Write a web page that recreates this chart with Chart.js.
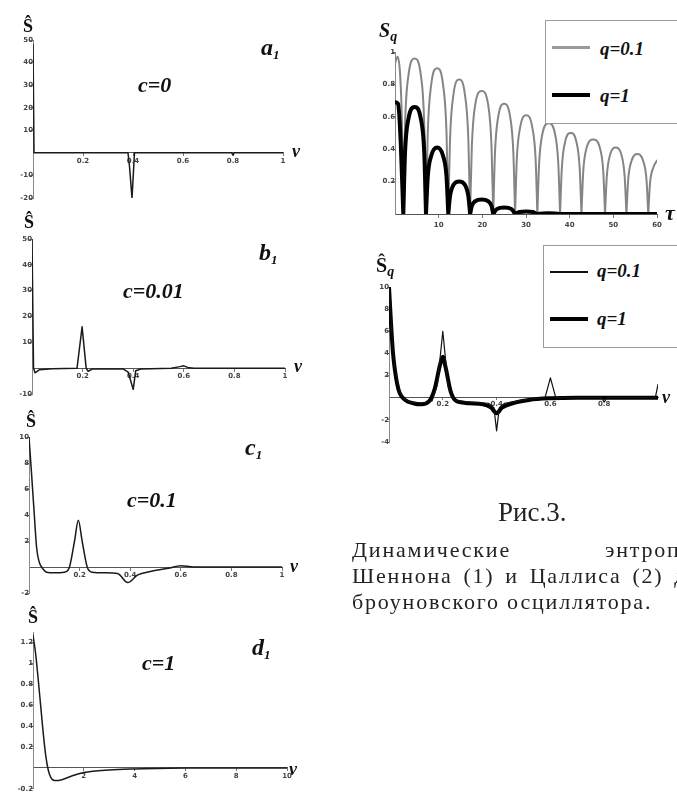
<!DOCTYPE html>
<html><head><meta charset="utf-8">
<script src="https://cdn.jsdelivr.net/npm/chart.js@4/dist/chart.umd.min.js"></script>
<style>
html,body{margin:0;padding:0;background:#fff;}
#wrap{position:relative;width:677px;height:795px;overflow:hidden;background:#fff;}
canvas.layer{position:absolute;left:0;top:0;}
.l{position:absolute;line-height:1;white-space:nowrap;font-family:"Liberation Serif",serif;color:#111;}
.bi{font-weight:bold;font-style:italic;}
.b{font-weight:bold;}
.sub{position:relative;top:4px;font-size:13px;}
.cap{position:absolute;line-height:1;white-space:nowrap;font-family:"Liberation Serif",serif;color:#222;font-size:22px;letter-spacing:1.8px;}
.box{position:absolute;border:1px solid #9a9a9a;background:#fff;}
.sw{position:absolute;}
</style></head>
<body>
<div id="wrap">
<canvas id="cA" class="layer" width="677" height="795"></canvas>
<canvas id="cB" class="layer" width="677" height="795"></canvas>
<canvas id="cC" class="layer" width="677" height="795"></canvas>
<canvas id="cD" class="layer" width="677" height="795"></canvas>
<canvas id="cT" class="layer" width="677" height="795"></canvas>
<canvas id="cN" class="layer" width="677" height="795"></canvas>

<!-- panel a1 -->
<div class="l b" style="left:23px;top:17px;font-size:18px;">Ŝ</div>
<div class="l bi" style="left:261px;top:35px;font-size:24px;">a<span class="sub">1</span></div>
<div class="l bi" style="left:138px;top:73.6px;font-size:22px;">c=0</div>
<div class="l bi" style="left:292px;top:142px;font-size:18px;">ν</div>
<!-- panel b1 -->
<div class="l b" style="left:24px;top:213px;font-size:18px;">Ŝ</div>
<div class="l bi" style="left:259px;top:240px;font-size:24px;">b<span class="sub">1</span></div>
<div class="l bi" style="left:123px;top:279.6px;font-size:22px;">c=0.01</div>
<div class="l bi" style="left:294px;top:357px;font-size:18px;">ν</div>
<!-- panel c1 -->
<div class="l b" style="left:26px;top:412px;font-size:18px;">Ŝ</div>
<div class="l bi" style="left:245px;top:435px;font-size:24px;">c<span class="sub">1</span></div>
<div class="l bi" style="left:127px;top:488.6px;font-size:22px;">c=0.1</div>
<div class="l bi" style="left:290px;top:557px;font-size:18px;">ν</div>
<!-- panel d1 -->
<div class="l b" style="left:28px;top:608px;font-size:18px;">Ŝ</div>
<div class="l bi" style="left:252px;top:635px;font-size:24px;">d<span class="sub">1</span></div>
<div class="l bi" style="left:142px;top:651.6px;font-size:22px;">c=1</div>
<div class="l bi" style="left:289px;top:760px;font-size:18px;">ν</div>

<!-- top right panel -->
<div class="l bi" style="left:379px;top:20px;font-size:20px;">S<span class="sub" style="font-size:14px;">q</span></div>
<div class="l bi" style="left:665px;top:201.6px;font-size:22px;">τ</div>
<div class="box" style="left:545px;top:20px;width:150px;height:102px;"></div>
<div class="sw" style="left:552px;top:46px;width:38px;height:2.5px;background:#9a9a9a;"></div>
<div class="l bi" style="left:600px;top:39px;font-size:19px;">q=0.1</div>
<div class="sw" style="left:552px;top:93px;width:38px;height:4px;background:#000;"></div>
<div class="l bi" style="left:600px;top:86px;font-size:19px;">q=1</div>

<!-- bottom right panel -->
<div class="l b" style="left:376px;top:255px;font-size:20px;">Ŝ<span class="sub" style="font-size:14px;font-style:italic;">q</span></div>
<div class="l bi" style="left:662px;top:388px;font-size:18px;">ν</div>
<div class="box" style="left:543px;top:245px;width:150px;height:101px;"></div>
<div class="sw" style="left:550px;top:271px;width:38px;height:1.5px;background:#111;"></div>
<div class="l bi" style="left:597px;top:261px;font-size:19px;">q=0.1</div>
<div class="sw" style="left:550px;top:317px;width:38px;height:4px;background:#000;"></div>
<div class="l bi" style="left:597px;top:309px;font-size:19px;">q=1</div>

<!-- caption -->
<div class="l" style="left:498px;top:499.4px;font-size:27px;color:#222;">Рис.3.</div>
<div class="cap" style="left:352px;top:538.6px;">Динамические</div>
<div class="cap" style="left:605px;top:538.6px;">энтропии</div>
<div class="cap" style="left:352px;top:564.6px;word-spacing:3.5px;">Шеннона (1) и Цаллиса (2) для</div>
<div class="cap" style="left:352px;top:590.6px;">броуновского осциллятора.</div>
</div>

<script>
// ---------- data ----------
// panel a1 (c=0)
const a1Nu = [0, 0.004, 0.38, 0.386, 0.396, 0.406, 0.795, 0.8, 0.805, 1];
const a1S  = [48, 0, 0, -6, -20, 0, 0, -1, 0, 0];
const a1XTicks = [0.2, 0.4, 0.6, 0.8, 1];
const a1YTicks = [50, 40, 30, 20, 10, -10, -20];

// panel b1 (c=0.01)
const b1Nu = [0, 0.006, 0.012, 0.03, 0.08, 0.178, 0.198, 0.214, 0.222, 0.24, 0.36, 0.38, 0.4, 0.41, 0.43, 0.55, 0.585, 0.6, 0.615, 0.64, 0.8, 1];
const b1S  = [50, 0, -1.8, -0.6, -0.2, 0, 16, 0, -1.2, -0.3, -0.3, -1.5, -8.2, -1, -0.3, 0, 0.6, 0.9, 0.3, 0, 0, 0];
const b1XTicks = [0.2, 0.4, 0.6, 0.8, 1];
const b1YTicks = [50, 40, 30, 20, 10, -10];

// panel c1 (c=0.1)
const c1Nu = [0, 0.01, 0.02, 0.03, 0.04, 0.05, 0.07, 0.1, 0.14, 0.16, 0.18, 0.195, 0.21, 0.23, 0.25, 0.3, 0.35, 0.39, 0.43, 0.48, 0.55, 0.6, 0.65, 1];
const c1S  = [10, 7.2, 4.3, 1.5, 0.4, 0, -0.4, -0.45, -0.4, 0, 2, 3.6, 2, 0, -0.4, -0.45, -0.5, -1.2, -0.6, -0.35, -0.1, 0.1, 0, 0];
const c1XTicks = [0.2, 0.4, 0.6, 0.8, 1];
const c1YTicks = [10, 8, 6, 4, 2, -2];

// panel d1 (c=1)
const d1Nu = [0, 0.1, 0.2, 0.3, 0.4, 0.5, 0.6, 0.7, 0.85, 1.0, 1.5, 2, 3, 4, 6, 10];
const d1S  = [1.27, 1.1, 0.86, 0.6, 0.34, 0.12, -0.02, -0.09, -0.12, -0.12, -0.08, -0.045, -0.02, -0.01, 0, 0];
const d1XTicks = [2, 4, 6, 8, 10];
const d1YTicks = [1.2, 1, 0.8, 0.6, 0.4, 0.2, -0.2];

// top right: S_q(tau); null separates the arches
const tauQ01 = [0,0.6,1.2,1.6,1.9, 1.9,
  1.9,2.3,3.1,4.5,5.9,6.7,7.1, 7.1,
  7.1,7.5,8.3,9.65,11.0,11.8,12.2, 12.2,
  12.2,12.6,13.4,14.7,16.0,16.8,17.2, 17.2,
  17.2,17.6,18.4,19.85,21.3,22.1,22.5, 22.5,
  22.5,22.9,23.7,25.0,26.3,27.1,27.5, 27.5,
  27.5,27.9,28.7,30.05,31.4,32.2,32.6, 32.6,
  32.6,33.0,33.8,35.2,36.6,37.4,37.8, 37.8,
  37.8,38.2,39.0,40.25,41.5,42.3,42.7, 42.7,
  42.7,43.1,43.9,45.4,46.9,47.7,48.1, 48.1,
  48.1,48.5,49.3,50.55,51.8,52.6,53.0, 53.0,
  53.0,53.4,54.2,55.5,56.8,57.6,58.0, 58.0,
  58.0,58.4,59.2,60];
const sQ01 = [0.93,0.97,0.85,0.55,0, null,
  0,0.55,0.86,0.96,0.86,0.55,0, null,
  0,0.5,0.8,0.9,0.8,0.5,0, null,
  0,0.46,0.74,0.83,0.74,0.46,0, null,
  0,0.42,0.68,0.76,0.68,0.42,0, null,
  0,0.38,0.61,0.68,0.61,0.38,0, null,
  0,0.34,0.54,0.61,0.54,0.34,0, null,
  0,0.31,0.5,0.56,0.5,0.31,0, null,
  0,0.28,0.45,0.5,0.45,0.28,0, null,
  0,0.26,0.41,0.46,0.41,0.26,0, null,
  0,0.23,0.37,0.41,0.37,0.23,0, null,
  0,0.21,0.33,0.37,0.33,0.21,0, null,
  0,0.19,0.29,0.33];
const tauQ1 = [0,0.7,1.3,1.9, 1.9,
  1.9,2.3,3.1,4.5,5.9,6.7,7.1, 7.1,
  7.1,7.5,8.3,9.65,11.0,11.8,12.2, 12.2,
  12.2,12.6,13.4,14.7,16.0,16.8,17.2, 17.2,
  17.2,17.6,18.4,19.85,21.3,22.1,22.5, 22.5,
  22.5,23.3,25.0,26.7,27.5, 27.5,
  27.5,28.5,30.05,31.6,32.6,35.2,37.8,60];
const sQ1 = [0.69,0.68,0.45,0, null,
  0,0.38,0.59,0.66,0.59,0.38,0, null,
  0,0.23,0.36,0.41,0.36,0.23,0, null,
  0,0.11,0.18,0.2,0.18,0.11,0, null,
  0,0.05,0.08,0.09,0.08,0.05,0, null,
  0,0.03,0.04,0.03,0, null,
  0,0.012,0.015,0.012,0,0.005,0,0];
const tauXTicks = [10, 20, 30, 40, 50, 60];
const tauYTicks = [1, 0.8, 0.6, 0.4, 0.2];

// bottom right: hat S_q(nu)
const nuQ01 = [0,0.01,0.02,0.035,0.05,0.08,0.12,0.16,0.18,0.2,0.22,0.24,0.3,0.37,0.39,0.4,0.41,0.43,0.5,0.58,0.6,0.62,0.7,0.79,0.8,0.81,0.99,1.0];
const hsQ01 = [10,6,3,1,0,-0.4,-0.5,-0.3,1.2,6.0,1.0,-0.2,-0.4,-0.5,-0.9,-3.0,-0.9,-0.5,-0.2,0,1.8,0,0,0,-0.4,0,0,1.2];
const nuQ1 = [0,0.008,0.015,0.022,0.03,0.04,0.06,0.09,0.12,0.15,0.17,0.19,0.2,0.21,0.23,0.25,0.3,0.35,0.38,0.4,0.42,0.46,0.52,0.6,0.7,1];
const hsQ1 = [10,6.5,4,2.5,1.3,0.4,-0.2,-0.5,-0.6,-0.3,0.8,3.0,3.7,2.8,0.5,-0.3,-0.5,-0.6,-0.9,-1.4,-0.9,-0.5,-0.2,-0.05,0,0];
const nuXTicks = [0.2, 0.4, 0.6, 0.8];
const nuYTicks = [10, 8, 6, 4, 2, -2, -4];

// ---------- drawing ----------
const W = 677, H = 795;
const tickFont = {family: 'DejaVu Sans', size: 7, weight: 'bold'};

function pts(xs, ys) { return xs.map((v, i) => ({x: v, y: ys[i]})); }

function makeChart(id, area, xr, yr, xTicks, yTicks, sets, o) {
  o = Object.assign({tl: 3, xpad: 1, ypad: 2, border: '#555'}, o || {});
  new Chart(document.getElementById(id), {
    type: 'scatter',
    data: {datasets: sets.map(s => ({
      data: pts(s.x, s.y), showLine: true, pointRadius: 0, borderColor: s.c,
      borderWidth: s.w, tension: 0, cubicInterpolationMode: s.m || 'default',
      spanGaps: false, fill: false, borderJoinStyle: 'round', borderCapStyle: 'round'
    }))},
    options: {
      responsive: false, animation: false, devicePixelRatio: 1, events: [],
      plugins: {legend: {display: false}, tooltip: {enabled: false}},
      layout: {padding: {left: area[0], right: W - area[1], top: area[2], bottom: H - area[3]}},
      scales: {
        x: {type: 'linear', axis: 'x', position: {y: 0}, min: xr[0], max: xr[1],
          afterFit: s => { s.height = 0; },
          afterBuildTicks: s => { s.ticks = xTicks.map(v => ({value: v})); },
          ticks: {autoSkip: false, maxRotation: 0, padding: o.xpad, font: tickFont, color: '#444', callback: v => String(v)},
          grid: {drawOnChartArea: false, tickLength: o.tl, color: '#777'},
          border: {color: o.border, width: 1}},
        y: {type: 'linear', axis: 'y', position: {x: xr[0]}, min: yr[0], max: yr[1],
          afterFit: s => { s.width = 0; },
          afterBuildTicks: s => { s.ticks = yTicks.map(v => ({value: v})); },
          ticks: {autoSkip: false, padding: o.ypad, font: tickFont, color: '#444', callback: v => String(v)},
          grid: {drawOnChartArea: false, tickLength: o.tl, color: '#777'},
          border: {color: '#888', width: 1}}
      }
    }
  });
}

const dark = '#1a1a1a';
makeChart('cA', [33, 283, 40, 198], [0, 1], [-20, 50], a1XTicks, a1YTicks,
  [{x: a1Nu, y: a1S, c: dark, w: 1.5}]);
makeChart('cB', [32, 285, 239, 394], [0, 1], [-10, 50], b1XTicks, b1YTicks,
  [{x: b1Nu, y: b1S, c: dark, w: 1.5}]);
makeChart('cC', [29, 282, 437, 593], [0, 1], [-2, 10], c1XTicks, c1YTicks,
  [{x: c1Nu, y: c1S, c: dark, w: 1.5, m: 'monotone'}]);
makeChart('cD', [33, 287, 632, 792], [0, 10], [-0.2, 1.3], d1XTicks, d1YTicks,
  [{x: d1Nu, y: d1S, c: dark, w: 1.5, m: 'monotone'}]);
makeChart('cT', [395, 657, 52, 214], [0, 60], [0, 1], tauXTicks, tauYTicks,
  [{x: tauQ1, y: sQ1, c: '#000', w: 4, m: 'monotone'},
   {x: tauQ01, y: sQ01, c: '#858585', w: 2, m: 'monotone'}], {ypad: 6, xpad: 4});
makeChart('cN', [389, 658, 287, 442], [0, 1], [-4, 10], nuXTicks, nuYTicks,
  [{x: nuQ01, y: hsQ01, c: '#111', w: 1.2},
   {x: nuQ1, y: hsQ1, c: '#000', w: 4, m: 'monotone'}], {tl: 2, ypad: 1, xpad: 0});
</script>
</body></html>
